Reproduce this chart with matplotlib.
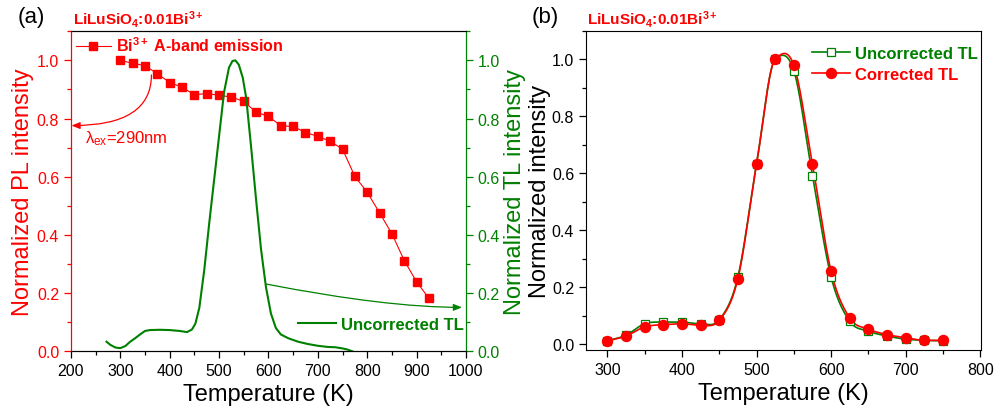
import numpy as np
import matplotlib
matplotlib.use('Agg')
import matplotlib.pyplot as plt
from matplotlib.ticker import MultipleLocator, FormatStrFormatter

plt.rcParams['font.family'] = ['Liberation Sans', 'DejaVu Sans']
plt.rcParams['mathtext.fontset'] = 'custom'
plt.rcParams['mathtext.rm'] = 'Liberation Sans'
plt.rcParams['mathtext.it'] = 'Liberation Sans:italic'
plt.rcParams['mathtext.bf'] = 'Liberation Sans:bold'

RED = '#ff0000'
GREEN = '#008000'

# (a) PL intensity of Bi3+ A-band vs temperature
pl_temp = np.arange(300, 926, 25)
pl_int = [1.0, 0.990, 0.982, 0.954, 0.924, 0.908, 0.882, 0.886, 0.880, 0.874,
          0.859, 0.822, 0.808, 0.775, 0.773, 0.752, 0.739, 0.722, 0.695, 0.601,
          0.547, 0.476, 0.404, 0.312, 0.239, 0.182]

# (a) uncorrected TL glow curve
tl_temp = [272, 280, 290, 300, 310, 320, 330, 340, 350, 360, 380, 400, 420, 435,
           445, 452, 460, 470, 480, 490, 500, 510, 520, 527, 533, 540, 548, 555,
           565, 575, 585, 595, 605, 615, 625, 640, 660, 680, 700, 720, 735, 750,
           760, 770]
tl_int = [0.033, 0.022, 0.013, 0.011, 0.018, 0.033, 0.045, 0.058, 0.070, 0.073,
          0.074, 0.073, 0.070, 0.066, 0.075, 0.095, 0.150, 0.280, 0.440, 0.590,
          0.740, 0.890, 0.975, 0.998, 1.0, 0.985, 0.940, 0.870, 0.700, 0.520,
          0.350, 0.220, 0.130, 0.080, 0.058, 0.045, 0.033, 0.025, 0.019, 0.015,
          0.014, 0.010, 0.006, 0.0]

# (b) uncorrected vs corrected TL
b_temp = np.arange(300, 751, 25)
b_uncorr = [0.012, 0.032, 0.072, 0.078, 0.078, 0.072, 0.086, 0.236, 0.633, 1.0,
            0.960, 0.592, 0.236, 0.081, 0.046, 0.029, 0.018, 0.014, 0.012]
b_corr = [0.012, 0.029, 0.061, 0.069, 0.072, 0.067, 0.084, 0.230, 0.631, 1.0,
          0.979, 0.631, 0.256, 0.092, 0.053, 0.034, 0.023, 0.014, 0.014]


def smooth_line(x, y, per_seg=30):
    # Hermite curve through the points (only for drawing the connecting line),
    # tangents damped at local extrema so the peak does not overshoot much
    x = np.asarray(x, float)
    y = np.asarray(y, float)
    d = np.diff(y) / np.diff(x)
    m = np.zeros_like(y)
    m[0], m[-1] = d[0], d[-1]
    for i in range(1, len(y) - 1):
        m[i] = 0.5 * (d[i - 1] + d[i])
        if d[i - 1] * d[i] <= 0:
            m[i] *= 0.35
    xs, ys = [], []
    for i in range(len(x) - 1):
        h = x[i + 1] - x[i]
        t = np.linspace(0, 1, per_seg, endpoint=False)
        h00 = 2 * t**3 - 3 * t**2 + 1
        h10 = t**3 - 2 * t**2 + t
        h01 = -2 * t**3 + 3 * t**2
        h11 = t**3 - t**2
        xs.append(x[i] + t * h)
        ys.append(h00 * y[i] + h10 * h * m[i] + h01 * y[i + 1] + h11 * h * m[i + 1])
    xs.append([x[-1]])
    ys.append([y[-1]])
    return np.concatenate(xs), np.concatenate(ys)


def style_ticks(ax):
    ax.tick_params(which='major', direction='out', length=5, width=0.9, labelsize=11.5)
    ax.tick_params(which='minor', direction='out', length=3, width=0.9)


fig = plt.figure(figsize=(9.98, 4.10), dpi=100)

# ---------------- panel (a)
ax = fig.add_axes([0.0711, 0.1407, 0.3958, 0.7805])
ax2 = ax.twinx()

ax.plot(pl_temp, pl_int, '-s', color=RED, lw=0.8, ms=6.2, mec=RED, zorder=3,
        label=r'Bi$^{\mathbf{3+}}$ A-band emission')
ax2.plot(tl_temp, tl_int, '-', color=GREEN, lw=1.5, label='Uncorrected TL')

ax.set_xlim(200, 1000)
ax.set_ylim(0, 1.1)
ax2.set_ylim(0, 1.1)
ax.xaxis.set_major_locator(MultipleLocator(100))
ax.xaxis.set_minor_locator(MultipleLocator(50))
for a in (ax, ax2):
    a.yaxis.set_major_locator(MultipleLocator(0.2))
    a.yaxis.set_minor_locator(MultipleLocator(0.1))
    a.yaxis.set_major_formatter(FormatStrFormatter('%.1f'))
    style_ticks(a)
ax.tick_params(axis='y', which='both', colors=RED)
ax2.tick_params(axis='y', which='both', colors=GREEN)
for a in (ax, ax2):
    a.spines['left'].set_color(RED)
    a.spines['right'].set_color(GREEN)

ax.set_xlabel('Temperature (K)', fontsize=17)
ax.xaxis.set_label_coords(0.5, -0.1)
ax.set_ylabel('Normalized PL intensity', fontsize=17, color=RED)
ax.yaxis.set_label_coords(-0.093, 0.5)
ax2.set_ylabel('Normalized TL intensity', fontsize=17, color=GREEN)
ax2.yaxis.set_label_coords(1.097, 0.5)

ax.legend(loc='center left', bbox_to_anchor=(0.012, 0.957), frameon=False,
          borderpad=0, borderaxespad=0, handlelength=2.2, handletextpad=0.35,
          prop={'size': 11.5, 'weight': 'bold'}, labelcolor=RED)
ax2.legend(loc='center left', bbox_to_anchor=(0.574, 0.085), frameon=False,
           borderpad=0, borderaxespad=0, handlelength=2.3, handletextpad=0.3,
           prop={'size': 12, 'weight': 'bold'}, labelcolor=GREEN)

ax.annotate('', xy=(201, 0.776), xytext=(363, 0.95),
            arrowprops=dict(arrowstyle='-|>,head_length=0.5,head_width=0.2', color=RED,
                            lw=0.9, shrinkA=0, shrinkB=0,
                            connectionstyle='angle3,angleA=90,angleB=0'))
ax.text(313, 0.734, 'λ$_{\\rm ex}$=290nm', color=RED, fontsize=12,
        ha='center', va='center')
ax2.annotate('', xy=(992, 0.151), xytext=(596, 0.231),
             arrowprops=dict(arrowstyle='-|>,head_length=0.5,head_width=0.2', color=GREEN,
                             lw=0.9, shrinkA=0, shrinkB=0,
                             connectionstyle='angle3,angleA=-11,angleB=0'))

fig.text(0.018, 0.958, '(a)', fontsize=16, ha='left', va='center')
fig.text(0.073, 0.952, r'LiLuSiO$_\mathbf{4}$:0.01Bi$^\mathbf{3+}$', fontsize=11,
         fontweight='bold', color=RED, ha='left', va='center')

# ---------------- panel (b)
bx = fig.add_axes([0.5872, 0.1439, 0.3958, 0.7788])
xs, ys = smooth_line(b_temp, b_uncorr)
bx.plot(xs, ys, '-', color=GREEN, lw=1.2)
xs, ys = smooth_line(b_temp, b_corr)
bx.plot(xs, ys, '-', color=RED, lw=1.2)
bx.plot(b_temp, b_uncorr, 's', color=GREEN, mfc='white', mec=GREEN, ms=5.2, mew=0.9)
bx.plot(b_temp, b_corr, 'o', color=RED, ms=7.2)
# legend proxies
bx.plot([], [], '-s', color=GREEN, mfc='white', mec=GREEN, ms=5.2, mew=0.9, lw=1.2,
        label='Uncorrected TL')
bx.plot([], [], '-o', color=RED, ms=7.2, lw=1.2, label='Corrected TL')

bx.set_xlim(271.4, 801)
bx.set_ylim(-0.02, 1.1)
bx.xaxis.set_major_locator(MultipleLocator(100))
bx.xaxis.set_minor_locator(MultipleLocator(50))
bx.yaxis.set_major_locator(MultipleLocator(0.2))
bx.yaxis.set_minor_locator(MultipleLocator(0.1))
bx.yaxis.set_major_formatter(FormatStrFormatter('%.1f'))
style_ticks(bx)
bx.set_xlabel('Temperature (K)', fontsize=17)
bx.xaxis.set_label_coords(0.5, -0.1)
bx.set_ylabel('Normalized intensity', fontsize=17)
bx.yaxis.set_label_coords(-0.088, 0.5)

leg = bx.legend(loc='center left', bbox_to_anchor=(0.571, 0.895), frameon=False,
                borderpad=0, borderaxespad=0, handlelength=2.3, handletextpad=0.3,
                labelspacing=0.35, prop={'size': 12, 'weight': 'bold'})
leg.get_texts()[0].set_color(GREEN)
leg.get_texts()[1].set_color(RED)

fig.text(0.533, 0.958, '(b)', fontsize=16, ha='left', va='center')
fig.text(0.588, 0.952, r'LiLuSiO$_\mathbf{4}$:0.01Bi$^\mathbf{3+}$', fontsize=11,
         fontweight='bold', color=RED, ha='left', va='center')

fig.savefig('out.png', dpi=100)
